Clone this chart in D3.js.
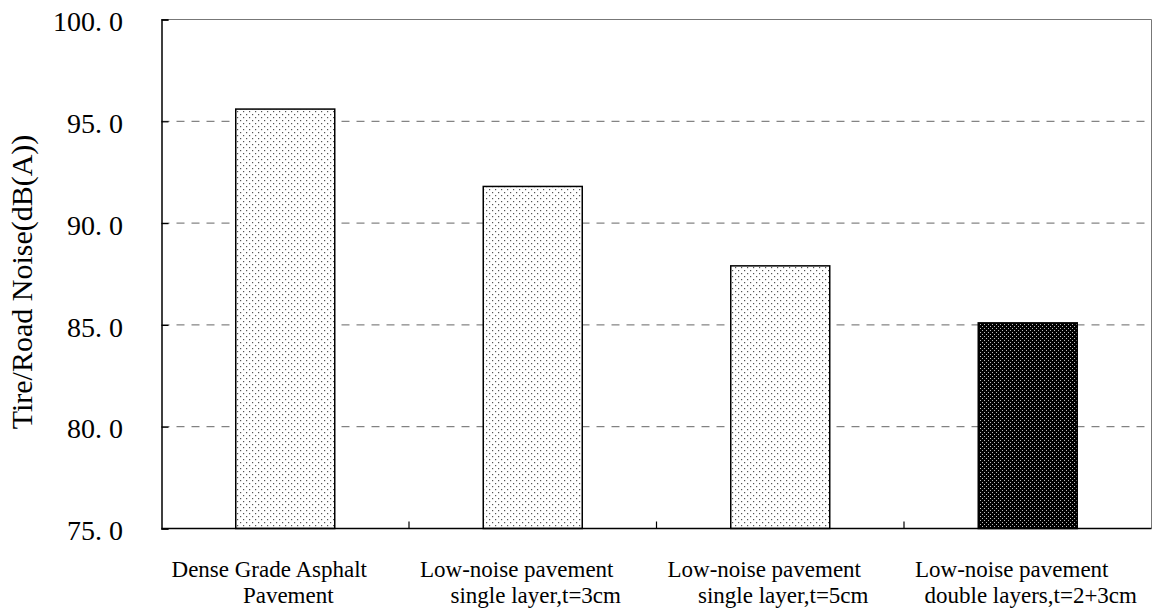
<!DOCTYPE html>
<html>
<head>
<meta charset="utf-8">
<script src="https://cdn.jsdelivr.net/npm/d3@7"></script>
<style>
  body { margin: 0; background: #fff; }
  text { font-family: "Liberation Serif", "Times New Roman", serif; fill: #000; }
</style>
</head>
<body>
<div id="chart"></div>
<script>
// data
const categories = [
    ["Dense Grade Asphalt", "Pavement"],
    ["Low-noise pavement", "single layer,t=3cm"],
    ["Low-noise pavement", "single layer,t=5cm"],
    ["Low-noise pavement", "double layers,t=2+3cm"]
];
const noise = [95.6, 91.8, 87.9, 85.1];
const yTicks = [75, 80, 85, 90, 95, 100];
const yLabel = "Tire/Road Noise(dB(A))";

const W = 1153, H = 610;
const plotL = 161.5, plotR = 1151.5, plotT = 19.5, plotB = 528.5;
const serif = '"Liberation Serif", "Times New Roman", serif';

const svg = d3.select("#chart")
    .append("svg")
    .attr("width", W)
    .attr("height", H);

// patterns for bars
const defs = svg.append("defs");
const light = defs.append("pattern")
    .attr("id", "dotsLight")
    .attr("patternUnits", "userSpaceOnUse")
    .attr("width", 6).attr("height", 6);
light.append("rect").attr("width", 6).attr("height", 6).attr("fill", "#fff");
light.append("rect").attr("x", 0).attr("y", 0).attr("width", 1.2).attr("height", 1.2).attr("fill", "#555");
light.append("rect").attr("x", 3).attr("y", 3).attr("width", 1.2).attr("height", 1.2).attr("fill", "#555");

const dark = defs.append("pattern")
    .attr("id", "dotsDark")
    .attr("patternUnits", "userSpaceOnUse")
    .attr("width", 4).attr("height", 4);
dark.append("rect").attr("width", 4).attr("height", 4).attr("fill", "#000");
dark.append("rect").attr("x", 0).attr("y", 0).attr("width", 1).attr("height", 1).attr("fill", "#bbb");
dark.append("rect").attr("x", 2).attr("y", 2).attr("width", 1).attr("height", 1).attr("fill", "#bbb");

var x = d3.scaleBand()
    .range([plotL, plotR])
    .domain(categories.map((c, i) => i))
    .paddingInner(0.6)
    .paddingOuter(0.3);

var y = d3.scaleLinear()
    .domain([75, 100])
    .range([plotB, plotT]);

// gridlines
svg.append("g")
    .selectAll("line")
    .data(yTicks.filter(t => t > 75 && t < 100))
    .enter().append("line")
    .attr("x1", plotL).attr("x2", plotR)
    .attr("y1", d => y(d)).attr("y2", d => y(d))
    .attr("stroke", "#666")
    .attr("stroke-width", 1)
    .attr("stroke-dasharray", "8,7");

// top and right frame
svg.append("path")
    .attr("d", `M${plotL},${plotT}H${plotR}V${plotB}`)
    .attr("fill", "none")
    .attr("stroke", "#777")
    .attr("stroke-width", 1);

// bars
svg.selectAll("mybar")
    .data(noise)
    .enter()
    .append("rect")
    .attr("x", (d, i) => x(i))
    .attr("y", d => y(d))
    .attr("width", x.bandwidth())
    .attr("height", d => plotB - y(d))
    .attr("fill", (d, i) => i === noise.length - 1 ? "url(#dotsDark)" : "url(#dotsLight)")
    .attr("stroke", "#000")
    .attr("stroke-width", 1.5);

// y axis
const yAxis = svg.append("g")
    .attr("transform", `translate(${plotL},0)`)
    .call(d3.axisRight(y).tickValues(yTicks).tickSize(7).tickFormat(""));
yAxis.select(".domain").attr("stroke", "#000").attr("stroke-width", 1.5);
yAxis.selectAll(".tick line").attr("stroke", "#000").attr("stroke-width", 1.2);

// tick labels, wide gap after the point like the original font
const tickText = svg.append("g")
    .selectAll("text")
    .data(yTicks)
    .enter().append("text")
    .attr("x", 123)
    .attr("y", d => y(d))
    .attr("dy", "0.42em")
    .style("font-family", serif)
    .style("text-anchor", "end")
    .style("font-size", "28px");
tickText.append("tspan")
    .text(d => d3.format(".1f")(d).split(".")[0] + ".");
tickText.append("tspan")
    .attr("dx", 7)
    .text(d => d3.format(".1f")(d).split(".")[1]);

// x axis
svg.append("line")
    .attr("x1", plotL).attr("x2", plotR)
    .attr("y1", plotB).attr("y2", plotB)
    .attr("stroke", "#000").attr("stroke-width", 1.5);

const step = x.step();
svg.append("g")
    .selectAll("line")
    .data(categories.slice(1))
    .enter().append("line")
    .attr("x1", (d, i) => x(i + 1) - step * x.paddingInner() / 2)
    .attr("x2", (d, i) => x(i + 1) - step * x.paddingInner() / 2)
    .attr("y1", plotB).attr("y2", plotB - 7)
    .attr("stroke", "#000").attr("stroke-width", 1.2);

const labels = svg.append("g")
    .selectAll("text")
    .data(categories)
    .enter().append("text")
    .style("font-family", serif)
    .style("text-anchor", "middle")
    .style("font-size", "23px");
labels.append("tspan")
    .attr("x", (d, i) => x(i) + x.bandwidth() / 2 - 16)
    .attr("y", 577)
    .text(d => d[0]);
labels.append("tspan")
    .attr("x", (d, i) => x(i) + x.bandwidth() / 2 + 3)
    .attr("y", 603)
    .text(d => d[1]);

// y label
svg.append("text")
    .attr("transform", `translate(32,${(plotT + plotB) / 2 + 8}) rotate(-90)`)
    .style("font-family", serif)
    .style("text-anchor", "middle")
    .style("font-size", "30px")
    .text(yLabel);
</script>
</body>
</html>
